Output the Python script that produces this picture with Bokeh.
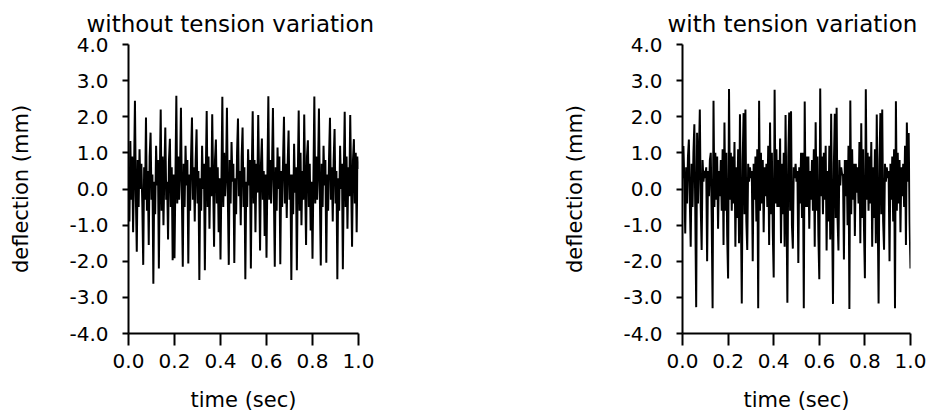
import numpy as np
from bokeh.plotting import figure
from bokeh.layouts import row
from bokeh.models import FixedTicker, NumeralTickFormatter, Range1d
from bokeh.embed import file_html
from bokeh.resources import INLINE

# ---------------- data ----------------
titles = ["without tension variation", "with tension variation"]
x_ticks = [0.0, 0.2, 0.4, 0.6, 0.8, 1.0]
y_ticks = [-4.0, -3.0, -2.0, -1.0, 0.0, 1.0, 2.0, 3.0, 4.0]

# deflection (mm) sampled every 0.004 s, 0.0 ... 1.0 s
defl_without = [
    0.6, -0.9, 1.33, -0.3, 0.9, -1.2, 0.4, 2.44, -0.2, -1.74, 0.8, -0.5, 1.1, 0.0, 0.7, -0.4, -2.1, 0.6, -0.3, 1.98,
    -0.6, 0.5, -1.55, 0.9, 1.56, -0.3, 0.4, -2.62, 0.2, -0.7, 1.2, 0.1, 0.8, -2.2, 0.3, 2.2, -0.6, 0.9, -1.0, 0.5,
    1.7, -0.3, 0.2, -1.4, 0.8, 1.39, -0.5, 0.6, -1.97, 0.4,
    -1.92, 0.3, 2.58, -0.4, 0.9, -0.3, 0.5, 2.25, -0.2, -2.15, 0.7, -0.5, 1.2, 0.1, 0.8, -2.06, 0.4, -0.6, 0.9, 1.98,
    -0.3, 0.6, -0.9, 0.8, 1.65, -0.4, 0.5, -2.52, 0.3, -0.6, 1.2, 0.0, 0.7, -2.25, 0.4, 2.16, -0.5, 0.9, -1.1, 0.6,
    -0.2, 2.07, 0.2, -1.6, 0.8, 1.37, -0.4, 0.6, -1.2, 0.3,
    -1.95, 0.2, 2.55, -0.5, 1.0, -0.2, 0.4, 2.25, -0.3, -2.1, 0.8, -0.4, 1.3, 0.2, 0.7, -2.05, 0.3, -0.7, 1.0, 1.95,
    -0.2, 0.5, -1.0, 0.9, 1.7, -0.5, 0.6, -2.5, 0.2, -0.5, 1.1, 0.1, 0.8, -2.2, 0.5, 2.15, -0.4, 0.8, -1.2, 0.7,
    -0.1, 2.05, 0.3, -1.7, 0.7, 1.4, -0.3, 0.5, -1.3, 0.4,
    -1.9, 0.4, 2.57, -0.3, 0.8, -0.4, 0.6, 2.24, -0.1, -2.15, 0.6, -0.6, 1.15, 0.0, 0.9, -2.08, 0.5, -0.5, 0.8, 2.0,
    -0.4, 0.7, -0.8, 0.7, 1.62, -0.3, 0.4, -2.52, 0.4, -0.7, 1.25, -0.1, 0.6, -2.25, 0.3, 2.17, -0.6, 1.0, -1.0, 0.5,
    -0.3, 2.06, 0.1, -1.55, 0.9, 1.35, -0.5, 0.7, -1.15, 0.2,
    -1.93, 0.3, 2.56, -0.4, 0.9, -0.3, 0.5, 2.23, -0.2, -2.12, 0.7, -0.5, 1.2, 0.1, 0.8, -2.04, 0.4, -0.6, 0.9, 1.97,
    -0.3, 0.6, -0.9, 0.8, 1.66, -0.4, 0.5, -2.5, 0.3, -0.6, 1.2, 0.0, 0.7, -2.22, 0.4, 2.14, -0.5, 0.9, -1.1, 0.6,
    -0.2, 2.05, 0.2, -1.6, 0.8, 1.38, -0.4, 1.0, -1.2, 0.9,
    0.55,
]

defl_with = [
    0.3, 1.19, 0.2, -1.23, 0.6, -0.4, 0.9, 1.37, -0.3, -1.6, 0.7, -0.5, 1.0, 1.79, -0.6, -3.27, 1.56, -0.4, 0.9, 2.2,
    -0.5, -1.69, 0.8, 0.2, 0.5, 0.3, 0.6, -2.0, 0.5, -0.2, 0.8, 1.0, -0.8, -3.3, 2.44, -0.5, 1.0, -0.3, 0.9, -1.1,
    0.5, -0.2, 0.8, -0.6, 1.1, -1.55, 1.84, -0.6, 1.0, -1.3,
    -2.48, 2.77, -0.3, 1.0, -0.6, 0.9, -0.4, 1.3, -1.6, 0.6, -0.8, 1.1, -1.5, 2.07, -0.5, -3.17, 0.8, 2.1, -0.7, 2.2,
    -0.9, -1.69, 0.7, 0.2, 0.6, 0.3, 0.5, -2.0, 0.7, -0.3, 0.9, -0.9, 1.1, -3.3, 2.44, -0.6, 1.0, -0.4, 0.8, -1.2,
    0.6, -0.2, 0.7, -0.5, 1.2, -1.55, 1.84, -0.7, 1.0, -1.2,
    -2.45, 2.75, -0.4, 1.1, -0.5, 0.8, -0.5, 1.4, -1.5, 0.7, -0.7, 1.0, -1.6, 2.05, -0.4, -3.15, 0.9, 2.12, -0.6, 2.15,
    -1.0, -1.65, 0.6, 0.3, 0.7, 0.2, 0.5, -2.05, 0.6, -0.4, 1.0, -0.8, 1.0, -3.3, 2.42, -0.5, 0.9, -0.5, 0.9, -1.1,
    0.5, -0.3, 0.8, -0.6, 1.1, -1.6, 1.85, -0.6, 0.9, -1.3,
    -2.5, 2.78, -0.2, 0.9, -0.7, 1.0, -0.3, 1.2, -1.7, 0.5, -0.9, 1.2, -1.4, 2.08, -0.6, -3.18, 0.7, 2.08, -0.8, 2.25,
    -0.8, -1.7, 0.8, 0.1, 0.6, 0.4, 0.4, -1.95, 0.8, -0.2, 0.8, -1.0, 1.2, -3.32, 2.45, -0.7, 1.1, -0.3, 0.7, -1.3,
    0.7, -0.1, 0.6, -0.4, 1.3, -1.5, 1.82, -0.8, 1.1, -1.1,
    -2.47, 2.76, -0.3, 1.0, -0.6, 0.9, -0.4, 1.3, -1.6, 0.6, -0.8, 1.1, -1.5, 2.06, -0.5, -3.17, 0.8, 2.1, -0.7, 2.2,
    -0.9, -1.68, 0.7, 0.2, 0.6, 0.3, 0.5, -2.0, 0.7, -0.3, 0.9, -0.9, 1.1, -3.3, 2.43, -0.6, 1.0, -0.4, 0.8, -1.2,
    0.6, -0.2, 0.7, -0.5, 1.2, -1.55, 1.84, 0.2, 1.55, -0.9,
    -2.2,
]

time_sec = np.linspace(0.0, 1.0, len(defl_without))

FONT = "DejaVu Sans"


def make_panel(title, yvals, width, b_left, b_right, title_offset):
    p = figure(width=width, height=417,
               x_range=Range1d(0.0, 1.0), y_range=Range1d(-4.0, 4.0),
               output_backend="svg", toolbar_location=None,
               min_border_left=b_left, min_border_right=b_right,
               min_border_top=44, min_border_bottom=84)
    p.title.text = title
    p.title.align = "left"
    p.title.offset = title_offset
    p.title.text_font = FONT
    p.title.text_font_size = "23px"
    p.title.text_font_style = "normal"
    p.title.text_color = "black"
    p.title.standoff = 15

    p.line(time_sec, yvals, line_color="black", line_width=2.0)

    p.xgrid.visible = False
    p.ygrid.visible = False
    p.outline_line_color = None
    p.background_fill_color = "white"
    p.border_fill_color = "white"

    xa = p.xaxis[0]
    xa.ticker = FixedTicker(ticks=x_ticks)
    xa.formatter = NumeralTickFormatter(format="0.0")
    xa.major_tick_in = 0
    xa.major_tick_out = 12
    xa.minor_tick_line_color = None
    xa.axis_line_width = 2
    xa.major_tick_line_width = 2
    xa.major_label_text_font = FONT
    xa.major_label_text_font_size = "20px"
    xa.major_label_text_color = "black"
    xa.major_label_standoff = 8
    xa.axis_label = "time (sec)"
    xa.axis_label_text_font = FONT
    xa.axis_label_text_font_size = "21px"
    xa.axis_label_text_font_style = "normal"
    xa.axis_label_text_color = "black"
    xa.axis_label_standoff = 17

    ya = p.yaxis[0]
    ya.ticker = FixedTicker(ticks=y_ticks)
    ya.formatter = NumeralTickFormatter(format="0.0")
    ya.major_tick_in = 0
    ya.major_tick_out = 6
    ya.minor_tick_line_color = None
    ya.axis_line_width = 2
    ya.major_tick_line_width = 2
    ya.major_label_text_font = FONT
    ya.major_label_text_font_size = "20px"
    ya.major_label_text_color = "black"
    ya.major_label_standoff = 14
    ya.axis_label = "deflection (mm)"
    ya.axis_label_text_font = FONT
    ya.axis_label_text_font_size = "21px"
    ya.axis_label_text_font_style = "normal"
    ya.axis_label_text_color = "black"
    ya.axis_label_standoff = 33
    return p


p1 = make_panel(titles[0], defl_without, 458, 128, 100, -42)
p2 = make_panel(titles[1], defl_with, 469, 224, 17, -15)

layout = row(p1, p2)
open("out.html", "w").write(file_html(layout, INLINE))
